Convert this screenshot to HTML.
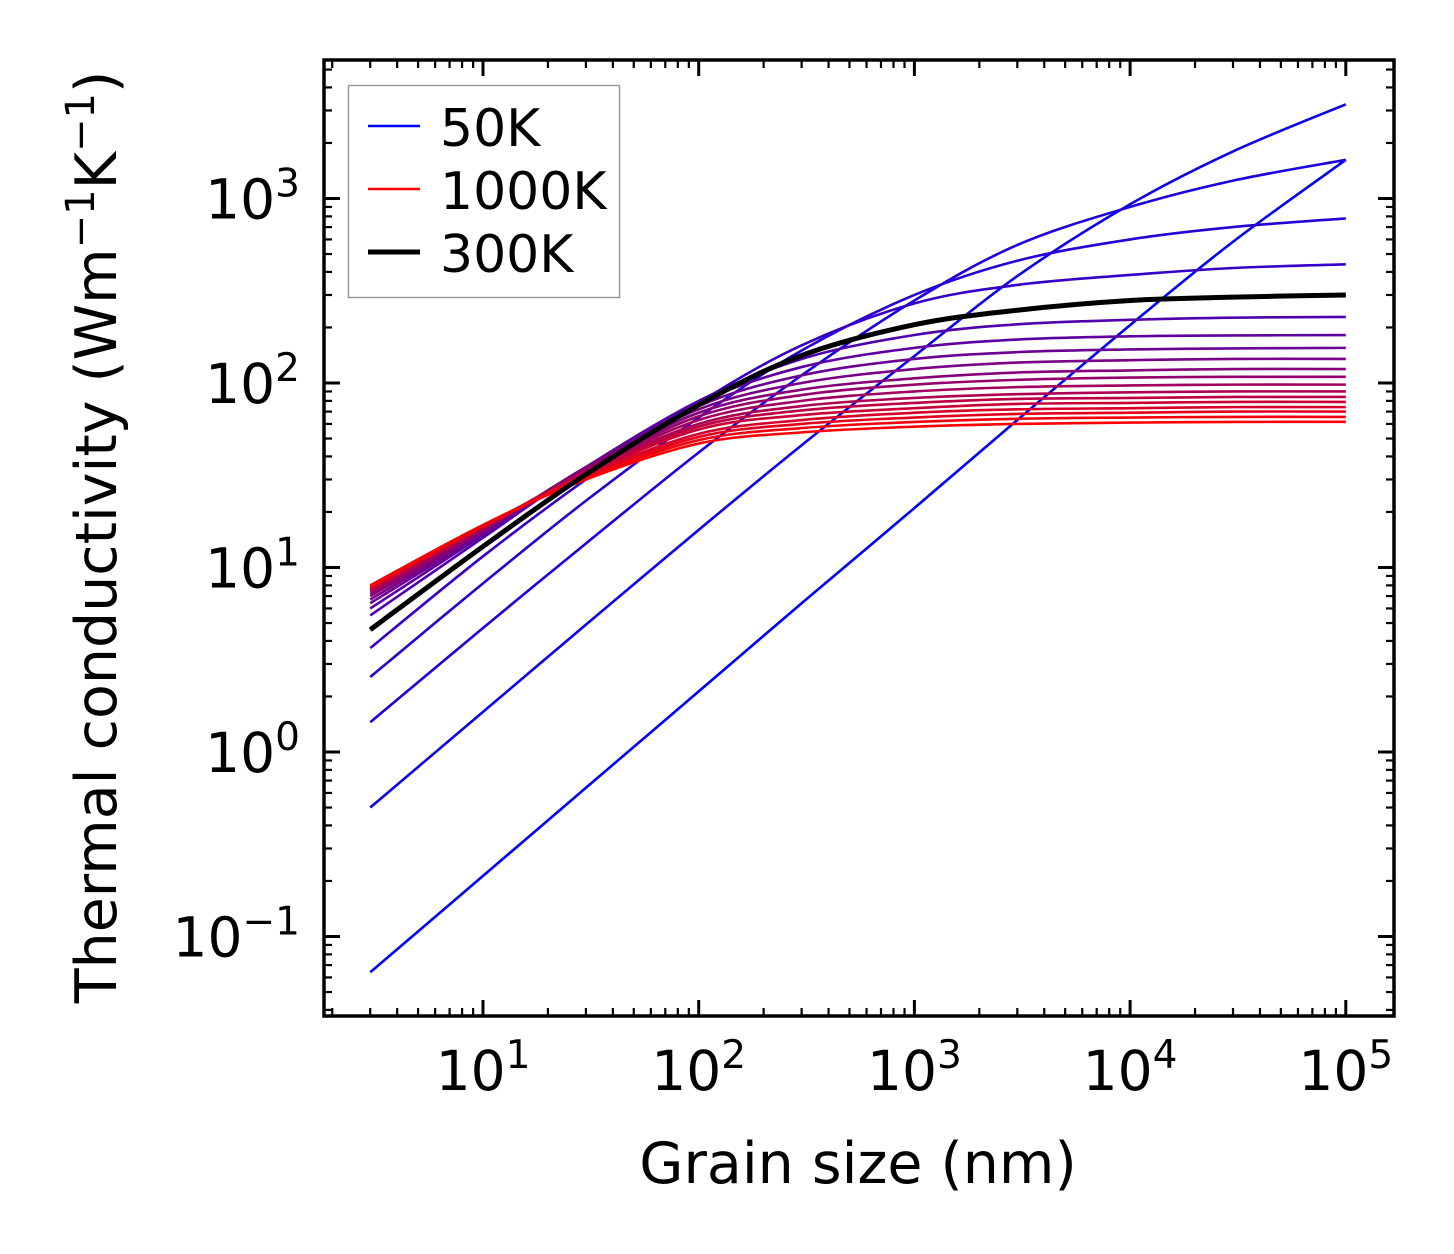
<!DOCTYPE html>
<html><head><meta charset="utf-8"><style>
html,body{margin:0;padding:0;background:#fff;}
svg{display:block;font-family:"DejaVu Sans","Liberation Sans",sans-serif;}
</style></head><body>
<svg id="chart" width="1454" height="1254" viewBox="0 0 1454 1254" xmlns="http://www.w3.org/2000/svg">
<rect x="0" y="0" width="1454" height="1254" fill="#fff"/>
<g id="curves"></g>
<g id="ticks"></g>
<rect x="324" y="60" width="1070" height="956" fill="none" stroke="#000" stroke-width="3.5"/>
<g id="xlabels" font-size="55" text-anchor="middle"></g>
<g id="ylabels" font-size="55" text-anchor="end"></g>
<text x="858" y="1183" font-size="57" text-anchor="middle">Grain size (nm)</text>
<text transform="translate(116,537) rotate(-90)" font-size="57" text-anchor="middle">Thermal conductivity (Wm<tspan font-size="40" dy="-22">−1</tspan><tspan dy="22">K</tspan><tspan font-size="40" dy="-22">−1</tspan><tspan dy="22">)</tspan></text>
<g>
<rect x="348.5" y="85.5" width="271" height="212" fill="#fff" stroke="#999" stroke-width="1.5"/>
<line x1="368" y1="126" x2="420" y2="126" stroke="#0000ff" stroke-width="2.5"/>
<text x="440" y="146" font-size="52">50K</text>
<line x1="368" y1="189" x2="420" y2="189" stroke="#ff0000" stroke-width="2.5"/>
<text x="440" y="209" font-size="52">1000K</text>
<line x1="368" y1="252" x2="420" y2="252" stroke="#000" stroke-width="5"/>
<text x="440" y="272" font-size="52">300K</text>
</g>
</svg>
<script>
const grainSizes = [3, 10, 30, 100, 300, 1000, 3000, 10000, 30000, 100000];
const temperatures = [50,100,150,200,250,300,350,400,450,500,550,600,650,700,750,800,850,900,950,1000];
const k50 = [0.064,0.213,0.64,2.13,6.4,21,63,206,583,1620];
const k100 = [0.5,1.65,4.9,16,46,140,380,930,1800,3240];
const k150 = [1.45,4.7,13.5,42,110,280,560,900,1250,1620];
const k200 = [2.55,8.2,23,65,150,300,460,600,700,780];
const k250 = [3.66,11.5,30,78,160,270,340,385,420,440];
const k300 = [4.6,13,32,76,141,207,248,280,292,300];
const k350 = [5.5,14.5,35,80,135,182,208,220,226,228];
const k400 = [6.0,15,35,78,122,155,172,179,181,182];
const k450 = [6.4,15.3,35,75,110,135,147,152,154,155];
const k500 = [6.7,15.6,35,72,100,119,129,133,135,135];
const k550 = [7.0,15.9,34.5,69,92,106,114,117,119,119];
const k600 = [7.2,16.1,34,66,86,98,104,107,108,108];
const k650 = [7.4,16.3,33.5,63,80,90,95,97,98,98];
const k700 = [7.5,16.5,33,60,75,83,87,89,90,90];
const k750 = [7.6,16.6,32.5,58,71,78,82,83,84,84];
const k800 = [7.7,16.7,32,56,67,73,77,78,79,79];
const k850 = [7.8,16.8,31.5,53,63,69,72,73,74,74];
const k900 = [7.85,16.9,31,51,60,65,68,69,70,70];
const k950 = [7.9,17,30.5,49,57,61.5,64,65,65.5,65.5];
const k1000 = [8.0,17,30,47,54,58,60,61,61.5,61.6];
const series = [k50,k100,k150,k200,k250,k300,k350,k400,k450,k500,k550,k600,k650,k700,k750,k800,k850,k900,k950,k1000];
const xTickExps = [1,2,3,4,5];
const yTickExps = [-1,0,1,2,3];

const NS = "http://www.w3.org/2000/svg";
const X0 = 483, XD = 215.7, Y0 = 752, YD = 184.5;
const L = 324, R = 1394, T = 60, B = 1016;
function xs(v){ return X0 + (Math.log10(v) - 1) * XD; }
function ys(v){ return Y0 - Math.log10(v) * YD; }

function pathFor(vals){
  const pts = grainSizes.map((g,i)=>[xs(g), ys(vals[i])]);
  let d = "M" + pts[0][0].toFixed(2) + "," + pts[0][1].toFixed(2);
  for (let i=0;i<pts.length-1;i++){
    const p0 = pts[Math.max(0,i-1)], p1 = pts[i], p2 = pts[i+1], p3 = pts[Math.min(pts.length-1,i+2)];
    const c1 = [p1[0]+(p2[0]-p0[0])/6, p1[1]+(p2[1]-p0[1])/6];
    const c2 = [p2[0]-(p3[0]-p1[0])/6, p2[1]-(p3[1]-p1[1])/6];
    d += " C" + c1.map(n=>n.toFixed(2)).join(",") + " " + c2.map(n=>n.toFixed(2)).join(",") + " " + p2.map(n=>n.toFixed(2)).join(",");
  }
  return d;
}

const cg = document.getElementById("curves");
series.forEach((vals, i) => {
  const t = (temperatures[i]-50)/950;
  const p = document.createElementNS(NS, "path");
  p.setAttribute("d", pathFor(vals));
  p.setAttribute("fill", "none");
  p.setAttribute("stroke", "rgb(" + Math.round(255*t) + ",0," + Math.round(255*(1-t)) + ")");
  p.setAttribute("stroke-width", "2.6");
  
  
  cg.appendChild(p);
});
const bp = document.createElementNS(NS, "path");
bp.setAttribute("d", pathFor(k300));
bp.setAttribute("fill", "none");
bp.setAttribute("stroke", "#000");
bp.setAttribute("stroke-width", "5");


cg.appendChild(bp);

const tg = document.getElementById("ticks");
function tick(x1,y1,x2,y2,w){
  const l = document.createElementNS(NS,"line");
  l.setAttribute("x1",x1);l.setAttribute("y1",y1);l.setAttribute("x2",x2);l.setAttribute("y2",y2);
  l.setAttribute("stroke","#000");l.setAttribute("stroke-width",w);
  
  
  tg.appendChild(l);
}
for (let e=0;e<=5;e++){
  for (let m=1;m<=9;m++){
    const x = xs(m*Math.pow(10,e));
    if (x < L || x > R) continue;
    const len = m===1 ? 16 : 8;
    const w = m===1 ? 3 : 2.2;
    tick(x,B,x,B-len,w); tick(x,T,x,T+len,w);
  }
}
for (let e=-2;e<=3;e++){
  for (let m=1;m<=9;m++){
    const y = ys(m*Math.pow(10,e));
    if (y < T || y > B) continue;
    const len = m===1 ? 16 : 8;
    const w = m===1 ? 3 : 2.2;
    tick(L,y,L+len,y,w); tick(R,y,R-len,y,w);
  }
}
const xl = document.getElementById("xlabels");
xTickExps.forEach(e=>{
  const t = document.createElementNS(NS,"text");
  t.setAttribute("x", xs(Math.pow(10,e)));
  t.setAttribute("y", 1090);
  t.innerHTML = '10<tspan font-size="39" dy="-22">' + e + '</tspan>';
  
  
  xl.appendChild(t);
});
const yl = document.getElementById("ylabels");
yTickExps.forEach(e=>{
  const t = document.createElementNS(NS,"text");
  t.setAttribute("x", 300);
  t.setAttribute("y", ys(Math.pow(10,e)) + 20);
  t.innerHTML = '10<tspan font-size="39" dy="-22">' + (e<0 ? '−'+(-e) : e) + '</tspan>';
  
  
  yl.appendChild(t);
});
</script>
</body></html>
